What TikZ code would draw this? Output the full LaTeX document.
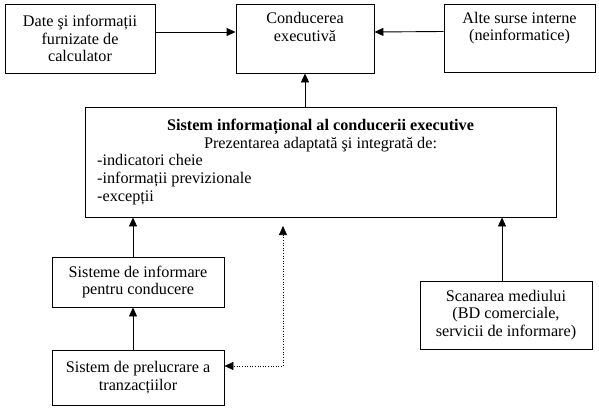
\documentclass[tikz,border=0pt]{standalone}
\usepackage{fontspec}
\setmainfont{Liberation Serif}
\usetikzlibrary{arrows.meta}
\begin{document}
\begin{tikzpicture}[x=1pt,y=-1pt,
  box/.style={draw,line width=0.9pt,align=center,inner sep=0pt,font=\fontsize{16.2}{17.8}\selectfont},
  txt/.style={inner sep=0pt,font=\fontsize{16.2}{17.8}\selectfont},
  arr/.style={-{Triangle[length=9pt,width=8pt]},line width=0.9pt},
  dotarr/.style={{Triangle[length=9pt,width=8pt]}-{Triangle[length=9pt,width=8pt]},line width=0.6pt,dotted}]
\useasboundingbox (0,0) rectangle (599,412);
\node[box,minimum width=150pt,minimum height=69pt] (b1) at (80,38.5) {Date şi informații\\furnizate de\\calculator};
\node[box,minimum width=138pt,minimum height=69pt] (b2) at (305,38.5) {Conducerea\\executivă\\\strut};
\node[box,minimum width=151pt,minimum height=68pt] (b3) at (519.5,38) {Alte surse interne\\(neinformatice)\\\strut};
\node[box,minimum width=471pt,minimum height=110pt] (sys) at (320.5,162) {};
\node[txt,font=\fontsize{16.2}{17.8}\selectfont\bfseries] (t1) at (320.5,127) {Sistem informațional al conducerii executive};
\node[txt] (t2) at (320.5,144.5) {Prezentarea adaptată şi integrată de:};
\node[txt,anchor=west,align=left] (t3) at (97,179.5) {-indicatori cheie\\-informații previzionale\\-excepții};
\node[box,minimum width=172pt,minimum height=50pt] (b4) at (138,282) {Sisteme de informare\\pentru conducere};
\node[box,minimum width=172pt,minimum height=55pt] (b5) at (138,377.5) {Sistem de prelucrare a\\tranzacțiilor};
\node[box,minimum width=172pt,minimum height=68pt] (b6) at (506,315) {Scanarea mediului\\(BD comerciale,\\servicii de informare)};
\coordinate (d) at (283,366);
\coordinate (dt) at (283,226);
\draw[arr] ([yshift=6.5pt]b1.east) -- ([yshift=6.5pt]b2.west);
\draw[arr] ([yshift=6.5pt]b3.west) -- ([yshift=6.5pt]b2.east);
\draw[arr] (sys.north -| b2.south) -- (b2.south);
\draw[arr] ([xshift=-5pt]b4.north) -- ([xshift=-5pt]b4.north |- sys.south);
\draw[arr] ([xshift=-5pt]b5.north) -- ([xshift=-5pt]b4.south);
\draw[arr] ([xshift=-4pt]b6.north) -- ([xshift=-4pt]b6.north |- sys.south);
\draw[dotarr] (dt) -- (d) -- (b5.east |- d);
\end{tikzpicture}
\end{document}
